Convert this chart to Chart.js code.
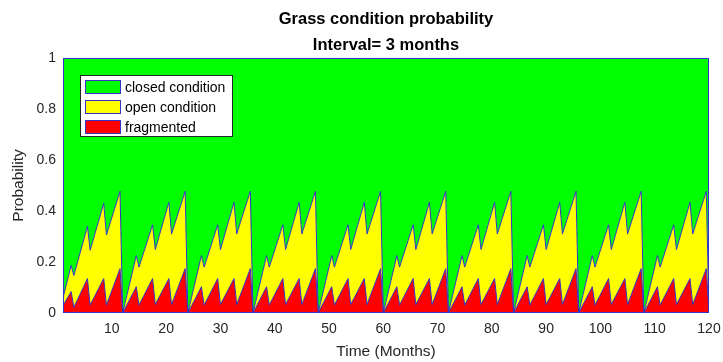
<!DOCTYPE html>
<html>
<head>
<meta charset="utf-8">
<script src="https://cdn.jsdelivr.net/npm/chart.js@4.4.1/dist/chart.umd.min.js"></script>
<style>
  html, body { margin: 0; padding: 0; background: #ffffff; }
  canvas { display: block; }
</style>
</head>
<body>
<canvas id="chart" width="723" height="362"></canvas>
<script>
// Time axis (months): vertices of the simulated probability curves
const months = [
  1, 2.5, 3, 5.5, 6, 8.5, 9, 11.5, 12,
  14.5, 15, 17.5, 18, 20.5, 21, 23.5, 24,
  26.5, 27, 29.5, 30, 32.5, 33, 35.5, 36,
  38.5, 39, 41.5, 42, 44.5, 45, 47.5, 48,
  50.5, 51, 53.5, 54, 56.5, 57, 59.5, 60,
  62.5, 63, 65.5, 66, 68.5, 69, 71.5, 72,
  74.5, 75, 77.5, 78, 80.5, 81, 83.5, 84,
  86.5, 87, 89.5, 90, 92.5, 93, 95.5, 96,
  98.5, 99, 101.5, 102, 104.5, 105, 107.5, 108,
  110.5, 111, 113.5, 114, 116.5, 117, 119.5, 120
];

// Probability of the fragmented state
const fragmented = [
  0.029, 0.084, 0.022, 0.135, 0.031, 0.135, 0.031, 0.174, 0,
  0.103, 0.031, 0.135, 0.033, 0.135, 0.033, 0.174, 0,
  0.103, 0.031, 0.135, 0.033, 0.135, 0.033, 0.174, 0,
  0.103, 0.031, 0.135, 0.033, 0.135, 0.033, 0.174, 0,
  0.103, 0.031, 0.135, 0.033, 0.135, 0.033, 0.174, 0,
  0.103, 0.031, 0.135, 0.033, 0.135, 0.033, 0.174, 0,
  0.103, 0.031, 0.135, 0.033, 0.135, 0.033, 0.174, 0,
  0.103, 0.031, 0.135, 0.033, 0.135, 0.033, 0.174, 0,
  0.103, 0.031, 0.135, 0.033, 0.135, 0.033, 0.174, 0,
  0.103, 0.031, 0.135, 0.033, 0.135, 0.033, 0.174, 0
];

// Probability of the open condition
const openCondition = [
  0.030, 0.103, 0.125, 0.205, 0.215, 0.295, 0.275, 0.303, 0,
  0.122, 0.149, 0.211, 0.216, 0.299, 0.277, 0.303, 0,
  0.122, 0.149, 0.211, 0.216, 0.299, 0.277, 0.303, 0,
  0.122, 0.149, 0.211, 0.216, 0.299, 0.277, 0.303, 0,
  0.122, 0.149, 0.211, 0.216, 0.299, 0.277, 0.303, 0,
  0.122, 0.149, 0.211, 0.216, 0.299, 0.277, 0.303, 0,
  0.122, 0.149, 0.211, 0.216, 0.299, 0.277, 0.303, 0,
  0.122, 0.149, 0.211, 0.216, 0.299, 0.277, 0.303, 0,
  0.122, 0.149, 0.211, 0.216, 0.299, 0.277, 0.303, 0,
  0.122, 0.149, 0.211, 0.216, 0.299, 0.277, 0.303, 0
];

// Probability of the closed condition
const closedCondition = [
  0.941, 0.813, 0.853, 0.660, 0.754, 0.570, 0.694, 0.523, 1,
  0.775, 0.820, 0.654, 0.751, 0.566, 0.690, 0.523, 1,
  0.775, 0.820, 0.654, 0.751, 0.566, 0.690, 0.523, 1,
  0.775, 0.820, 0.654, 0.751, 0.566, 0.690, 0.523, 1,
  0.775, 0.820, 0.654, 0.751, 0.566, 0.690, 0.523, 1,
  0.775, 0.820, 0.654, 0.751, 0.566, 0.690, 0.523, 1,
  0.775, 0.820, 0.654, 0.751, 0.566, 0.690, 0.523, 1,
  0.775, 0.820, 0.654, 0.751, 0.566, 0.690, 0.523, 1,
  0.775, 0.820, 0.654, 0.751, 0.566, 0.690, 0.523, 1,
  0.775, 0.820, 0.654, 0.751, 0.566, 0.690, 0.523, 1
];

const xTicks = [10, 20, 30, 40, 50, 60, 70, 80, 90, 100, 110, 120];
const yTicks = [0, 0.2, 0.4, 0.6, 0.8, 1];

const titleLines = ['Grass condition probability', 'Interval= 3 months'];
const xLabel = 'Time (Months)';
const yLabel = 'Probability';
const seriesNames = ['fragmented', 'open condition', 'closed condition'];
const seriesColors = ['#ff0000', '#ffff00', '#00ff00'];

const EDGE = '#3333c8';
const FONT = '"Liberation Sans", Arial, sans-serif';
const INK = '#262626';

function series(values) {
  return months.map((m, i) => ({ x: m, y: values[i] }));
}

// Title, in-axes legend and axes box
const decorations = {
  id: 'decorations',
  afterDatasetsDraw(chart) {
    const { ctx, chartArea: a } = chart;
    ctx.save();
    ctx.strokeStyle = EDGE;
    ctx.lineWidth = 1;
    ctx.strokeRect(Math.round(a.left) + 0.5, Math.round(a.top) + 0.5,
                   Math.round(a.right - a.left) - 1, Math.round(a.bottom - a.top) - 1);
    ctx.restore();
  },
  afterDraw(chart) {
    const { ctx, chartArea: a } = chart;
    ctx.save();
    // title
    ctx.fillStyle = '#000000';
    ctx.font = 'bold 16.5px ' + FONT;
    ctx.textAlign = 'center';
    ctx.textBaseline = 'middle';
    const cx = (a.left + a.right) / 2;
    ctx.fillText(titleLines[0], cx, 19);
    ctx.fillText(titleLines[1], cx, 45);

    // legend (top series first)
    const bx = a.left + 17, by = a.top + 17, bw = 153, bh = 62;
    ctx.fillStyle = '#ffffff';
    ctx.fillRect(bx, by, bw, bh);
    ctx.strokeStyle = INK;
    ctx.lineWidth = 1;
    ctx.strokeRect(bx + 0.5, by + 0.5, bw - 1, bh - 1);
    ctx.font = '14px ' + FONT;
    ctx.textAlign = 'left';
    ctx.textBaseline = 'middle';
    for (let k = 0; k < 3; k++) {
      const idx = 2 - k;
      const rowY = by + 12 + k * 20;
      ctx.fillStyle = seriesColors[idx];
      ctx.fillRect(bx + 5, rowY - 7, 36, 14);
      ctx.strokeStyle = EDGE;
      ctx.strokeRect(bx + 5.5, rowY - 6.5, 35, 13);
      ctx.fillStyle = '#000000';
      ctx.fillText(seriesNames[idx], bx + 45, rowY + 1);
    }
    ctx.restore();
  }
};

const datasetBase = {
  borderColor: EDGE,
  borderWidth: 1,
  pointRadius: 0,
  pointHoverRadius: 0,
  tension: 0
};

new Chart(document.getElementById('chart'), {
  type: 'line',
  data: {
    datasets: [
      Object.assign({}, datasetBase, {
        label: seriesNames[0], data: series(fragmented),
        backgroundColor: seriesColors[0], fill: 'origin'
      }),
      Object.assign({}, datasetBase, {
        label: seriesNames[1], data: series(openCondition),
        backgroundColor: seriesColors[1], fill: '-1'
      }),
      Object.assign({}, datasetBase, {
        label: seriesNames[2], data: series(closedCondition),
        backgroundColor: seriesColors[2], fill: '-1'
      })
    ]
  },
  options: {
    responsive: false,
    animation: false,
    events: [],
    layout: { padding: { top: 58, right: 14, bottom: 0, left: 0 } },
    plugins: {
      legend: { display: false },
      title: { display: false },
      tooltip: { enabled: false }
    },
    scales: {
      x: {
        type: 'linear',
        min: 1,
        max: 120,
        afterBuildTicks(scale) { scale.ticks = xTicks.map(v => ({ value: v })); },
        afterFit(scale) {
          scale.height = 49;
          scale.paddingLeft = 0;
          scale.paddingRight = 0;
        },
        grid: { display: false, drawTicks: false },
        border: { display: false },
        ticks: {
          color: INK,
          font: { family: FONT, size: 14 },
          padding: 8,
          maxRotation: 0,
          autoSkip: false
        },
        title: {
          display: true,
          text: xLabel,
          color: INK,
          font: { family: FONT, size: 15.5 },
          padding: { top: 0, bottom: 1 }
        }
      },
      y: {
        stacked: true,
        min: 0,
        max: 1,
        afterBuildTicks(scale) { scale.ticks = yTicks.map(v => ({ value: v })); },
        afterFit(scale) {
          scale.width = 63;
          scale.paddingTop = 0;
          scale.paddingBottom = 0;
        },
        grid: { display: false, drawTicks: false },
        border: { display: false },
        ticks: {
          color: INK,
          font: { family: FONT, size: 14 },
          padding: 7,
          callback: v => String(v)
        },
        title: {
          display: true,
          text: yLabel,
          color: INK,
          font: { family: FONT, size: 15.5 },
          padding: { top: 9, bottom: 0 }
        }
      }
    }
  },
  plugins: [decorations]
});
</script>
</body>
</html>
